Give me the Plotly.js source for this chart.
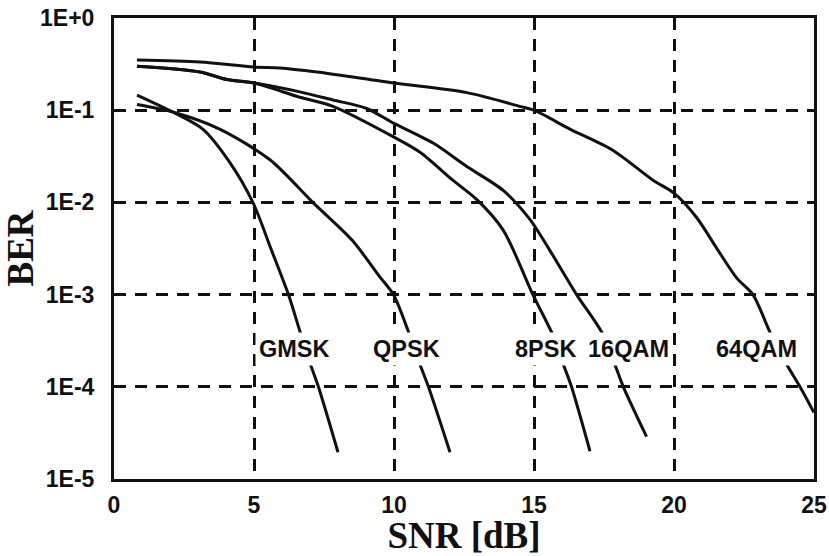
<!DOCTYPE html>
<html>
<head>
<meta charset="utf-8">
<script src="https://cdn.plot.ly/plotly-3.0.1.min.js"></script>
<style>html,body{margin:0;padding:0;background:#fff;}#chart{width:829px;height:556px;}</style>
</head>
<body>
<div id="chart"></div>
<script>
// SNR [dB] and BER values
const gmskSNR = [0.82, 2.1, 3.18, 4.14, 4.96, 5.63, 6.23, 6.64, 7.02, 7.3, 8.0];
const gmskBER = [0.146, 0.0955, 0.062, 0.027, 0.01, 0.003, 0.001, 0.0004, 0.000174, 0.0001, 0.0000195];

const qpskSNR = [0.82, 2.1, 3.79, 5.57, 7.1, 8.5, 9.5, 9.98, 10.51, 10.93, 11.23, 12.0];
const qpskBER = [0.115, 0.0955, 0.062, 0.029, 0.01, 0.0039, 0.00155, 0.001, 0.0004, 0.000174, 0.0001, 0.0000195];

const psk8SNR = [0.82, 3.07, 4.04, 5.0, 6.64, 7.82, 10.0, 10.93, 12.1, 12.96, 13.9, 14.96, 15.69, 16.05, 16.34, 17.0];
const psk8BER = [0.30, 0.26, 0.215, 0.197, 0.138, 0.110, 0.051, 0.035, 0.0174, 0.0107, 0.005, 0.001, 0.000355, 0.000174, 0.0001, 0.00002];

const qam16SNR = [0.82, 3.07, 4.04, 5.0, 6.64, 7.82, 9.0, 10.0, 11.4, 12.6, 13.9, 14.86, 15.57, 16.52, 17.42, 17.89, 18.19, 19.02];
const qam16BER = [0.30, 0.26, 0.215, 0.197, 0.158, 0.129, 0.105, 0.072, 0.044, 0.0245, 0.0135, 0.0065, 0.003, 0.001, 0.00039, 0.000174, 0.0001, 0.0000288];

const qam64SNR = [0.82, 3.07, 5.0, 5.93, 7.25, 10.0, 12.6, 14.5, 15.0, 16.3, 17.8, 19.25, 20.0, 20.8, 21.55, 22.25, 22.82, 23.43, 24.0, 24.5, 25.0];
const qam64BER = [0.35, 0.333, 0.294, 0.287, 0.259, 0.197, 0.155, 0.110, 0.1, 0.062, 0.037, 0.0174, 0.0126, 0.0069, 0.0031, 0.0015, 0.001, 0.00039, 0.00018, 0.0001, 0.0000525];

const seriesNames = ["GMSK", "QPSK", "8PSK", "16QAM", "64QAM"];
const labelSNR = [6.43, 10.43, 15.4, 18.36, 22.96];
const labelBER = [0.000257, 0.000257, 0.000257, 0.000257, 0.000257];

const xTickVals = [0, 5, 10, 15, 20, 25];
const yTickVals = [1, 0.1, 0.01, 0.001, 0.0001, 0.00001];
const yTickText = ["1E+0", "1E-1", "1E-2", "1E-3", "1E-4", "1E-5"];

const xs = [gmskSNR, qpskSNR, psk8SNR, qam16SNR, qam64SNR];
const ys = [gmskBER, qpskBER, psk8BER, qam16BER, qam64BER];

const traces = xs.map((x, i) => ({
  x: x, y: ys[i], name: seriesNames[i], type: "scatter", mode: "lines",
  line: {color: "#111111", width: 3, shape: "spline", smoothing: 0.8},
  hoverinfo: "skip"
}));

const tickFont = {family: "Liberation Sans, Arial, sans-serif", size: 23, color: "#111111", weight: "bold"};
const labelFont = {family: "Liberation Sans, Arial, sans-serif", size: 23.5, color: "#111111", weight: "bold"};
const titleFont = {family: "Liberation Serif, Times New Roman, serif", size: 37, color: "#111111", weight: "bold"};

const annotations = seriesNames.map((n, i) => ({
  x: labelSNR[i], y: Math.log10(labelBER[i]), xref: "x", yref: "y",
  text: n, showarrow: false, font: labelFont, bgcolor: "#ffffff", borderpad: 3,
  xanchor: "center", yanchor: "middle"
}));

const layout = {
  width: 829, height: 556,
  margin: {l: 114, r: 15, t: 18, b: 77},
  paper_bgcolor: "#ffffff", plot_bgcolor: "#ffffff",
  showlegend: false,
  xaxis: {
    range: [0, 25], tickvals: xTickVals, ticktext: xTickVals.map(String),
    showgrid: true, gridcolor: "#111111", gridwidth: 3, griddash: "12px,9px",
    zeroline: false, showline: true, linecolor: "#111111", linewidth: 3, mirror: true,
    ticks: "", tickfont: tickFont, ticklabelstandoff: 3,
    title: {text: "SNR [dB]", font: titleFont, standoff: 0}
  },
  yaxis: {
    type: "log", range: [-5, 0], tickvals: yTickVals, ticktext: yTickText,
    showgrid: true, gridcolor: "#111111", gridwidth: 3, griddash: "12px,9px",
    zeroline: false, showline: true, linecolor: "#111111", linewidth: 3, mirror: true,
    ticks: "", tickfont: tickFont, ticklabelstandoff: 12,
    title: {text: "BER", font: titleFont, standoff: 6}
  },
  annotations: annotations
};

Plotly.newPlot("chart", traces, layout, {staticPlot: true, displayModeBar: false});
</script>
</body>
</html>
